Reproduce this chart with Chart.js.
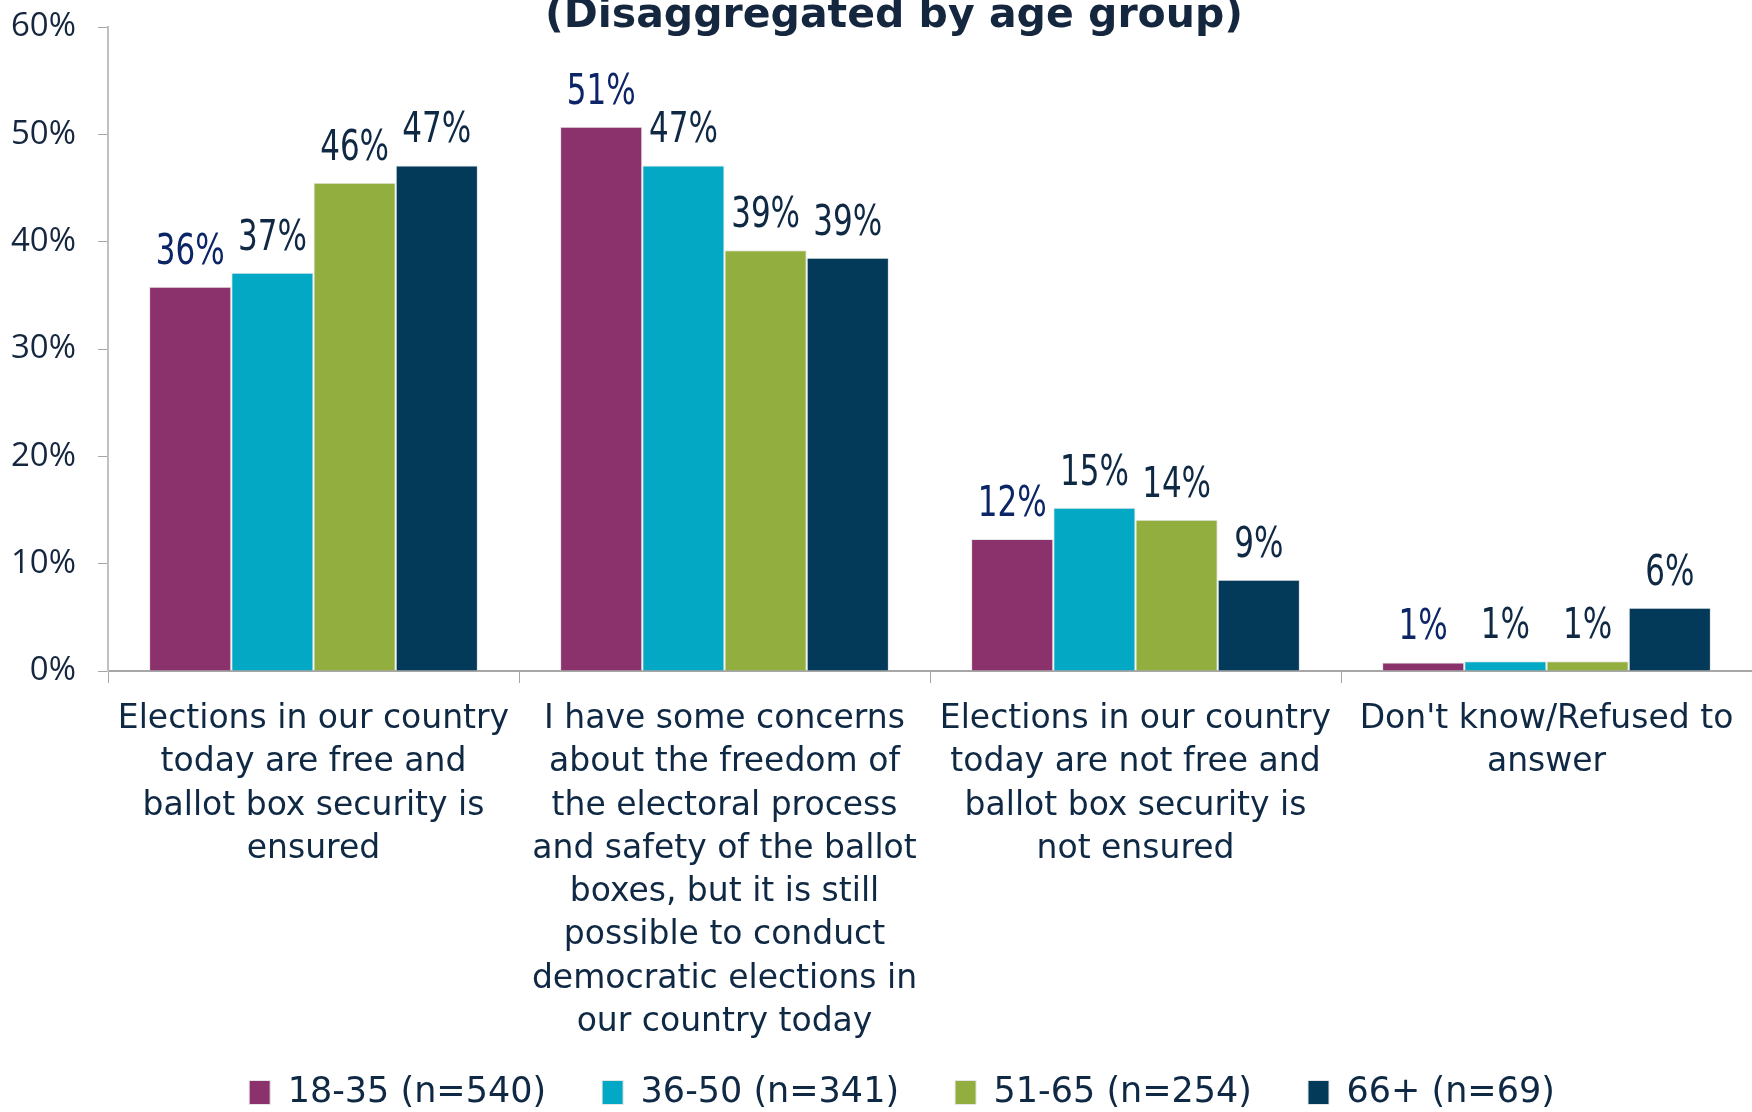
<!DOCTYPE html>
<html>
<head>
<meta charset="utf-8">
<script src="https://cdn.jsdelivr.net/npm/chart.js@4.4.1/dist/chart.umd.min.js"></script>
<style>
  html, body { margin: 0; padding: 0; background: #fff; }
  #wrap { width: 1752px; height: 1112px; position: relative; }
</style>
</head>
<body>
<div id="wrap"><canvas id="canvas"></canvas></div>
<script>
// categories
let categorias = [
  ['Elections in our country', 'today are free and', 'ballot box security is', 'ensured'],
  ['I have some concerns', 'about the freedom of', 'the electoral process', 'and safety of the ballot', 'boxes, but it is still', 'possible to conduct', 'democratic elections in', 'our country today'],
  ['Elections in our country', 'today are not free and', 'ballot box security is', 'not ensured'],
  ["Don't know/Refused to", 'answer']
];

// series
let grupos = ['18-35 (n=540)', '36-50 (n=341)', '51-65 (n=254)', '66+ (n=69)'];
let edad1835 = [35.8, 50.7, 12.3, 0.8];
let edad3650 = [37.1, 47.1, 15.2, 0.9];
let edad5165 = [45.5, 39.2, 14.1, 0.9];
let edad66 = [47.1, 38.5, 8.5, 5.9];

let colores = ['#8b326c', '#03a9c4', '#92ae3f', '#033a5a'];
let coloresEtiqueta = ['#0c2566', '#0f2944', '#0f2944', '#0f2944'];

let titulo = '(Disaggregated by age group)';

let myChart;
let fuente = '"DejaVu Sans", sans-serif';
let fuenteY = '"Open Sans", "DejaVu Sans", sans-serif';
let fuenteNum = '"DejaVu Sans Condensed", "DejaVu Sans", sans-serif';

// title (cut at the top like the original) and value labels
let extras = {
  id: 'extras',
  afterLayout(chart) {
    // the legend row carries a trailing padding, push it to where the original sits
    chart.legend.left += 26;
    chart.legend.right += 26;
  },
  afterDraw(chart) {
    let ctx = chart.ctx;
    ctx.save();
    ctx.fillStyle = '#15263f';
    ctx.font = 'bold 41px ' + fuente;
    ctx.textAlign = 'center';
    ctx.textBaseline = 'alphabetic';
    ctx.fillText(titulo, 894, 27);

    ctx.font = '42px ' + fuenteNum;
    ctx.textBaseline = 'bottom';
    chart.data.datasets.forEach(function(ds, i) {
      let meta = chart.getDatasetMeta(i);
      ctx.fillStyle = coloresEtiqueta[i];
      meta.data.forEach(function(bar, j) {
        ctx.save();
        ctx.translate(bar.x, bar.y - 13);
        ctx.scale(0.82, 1);
        ctx.fillText(Math.round(ds.data[j]) + '%', 0, 0);
        ctx.restore();
      });
    });
    ctx.restore();
  }
};

window.onload = function() {
  let ctx = document.getElementById('canvas');
  let series = [edad1835, edad3650, edad5165, edad66];
  myChart = new Chart(ctx, {
    type: 'bar',
    data: {
      labels: categorias,
      datasets: series.map(function(s, i) {
        return {
          label: grupos[i],
          data: s,
          backgroundColor: colores[i],
          borderColor: '#e6e6e6',
          borderWidth: 1,
          categoryPercentage: 0.8,
          barPercentage: 1.0
        };
      })
    },
    options: {
      responsive: true,
      maintainAspectRatio: false,
      animation: false,
      layout: { padding: { top: 27, right: 0, left: 0, bottom: -8 } },
      plugins: {
        title: { display: false },
        tooltip: { enabled: false },
        legend: {
          position: 'bottom',
          labels: {
            color: '#0f2944',
            font: { family: fuente, size: 35 },
            boxWidth: 21,
            boxHeight: 24,
            padding: 56
          }
        }
      },
      scales: {
        x: {
          offset: true,
          grid: { display: true, offset: true, drawOnChartArea: false, tickLength: 12, color: '#a6a6a6' },
          border: { color: '#a6a6a6', width: 2 },
          ticks: {
            color: '#0f2944',
            font: { family: fuente, size: 33, lineHeight: 1.31 },
            padding: 15,
            maxRotation: 0,
            autoSkip: false
          },
          afterFit: function(scale) {
            scale.height = 348;
            // long labels run a bit into the legend band, don't cut them
            scale._computeLabelArea = function() { return undefined; };
          }
        },
        y: {
          min: 0,
          max: 60,
          grid: { display: true, drawOnChartArea: false, tickLength: 10, color: '#a6a6a6' },
          border: { color: '#c0c0c0', width: 2 },
          ticks: {
            stepSize: 10,
            color: '#15263f',
            padding: 22,
            font: { family: fuenteY, size: 33 },
            callback: function(v) { return v + '%'; }
          },
          afterFit: function(scale) {
            scale.width = 108;
            scale.paddingTop = 0;
            scale.paddingBottom = 0;
          }
        }
      }
    },
    plugins: [extras]
  });
};
</script>
</body>
</html>
